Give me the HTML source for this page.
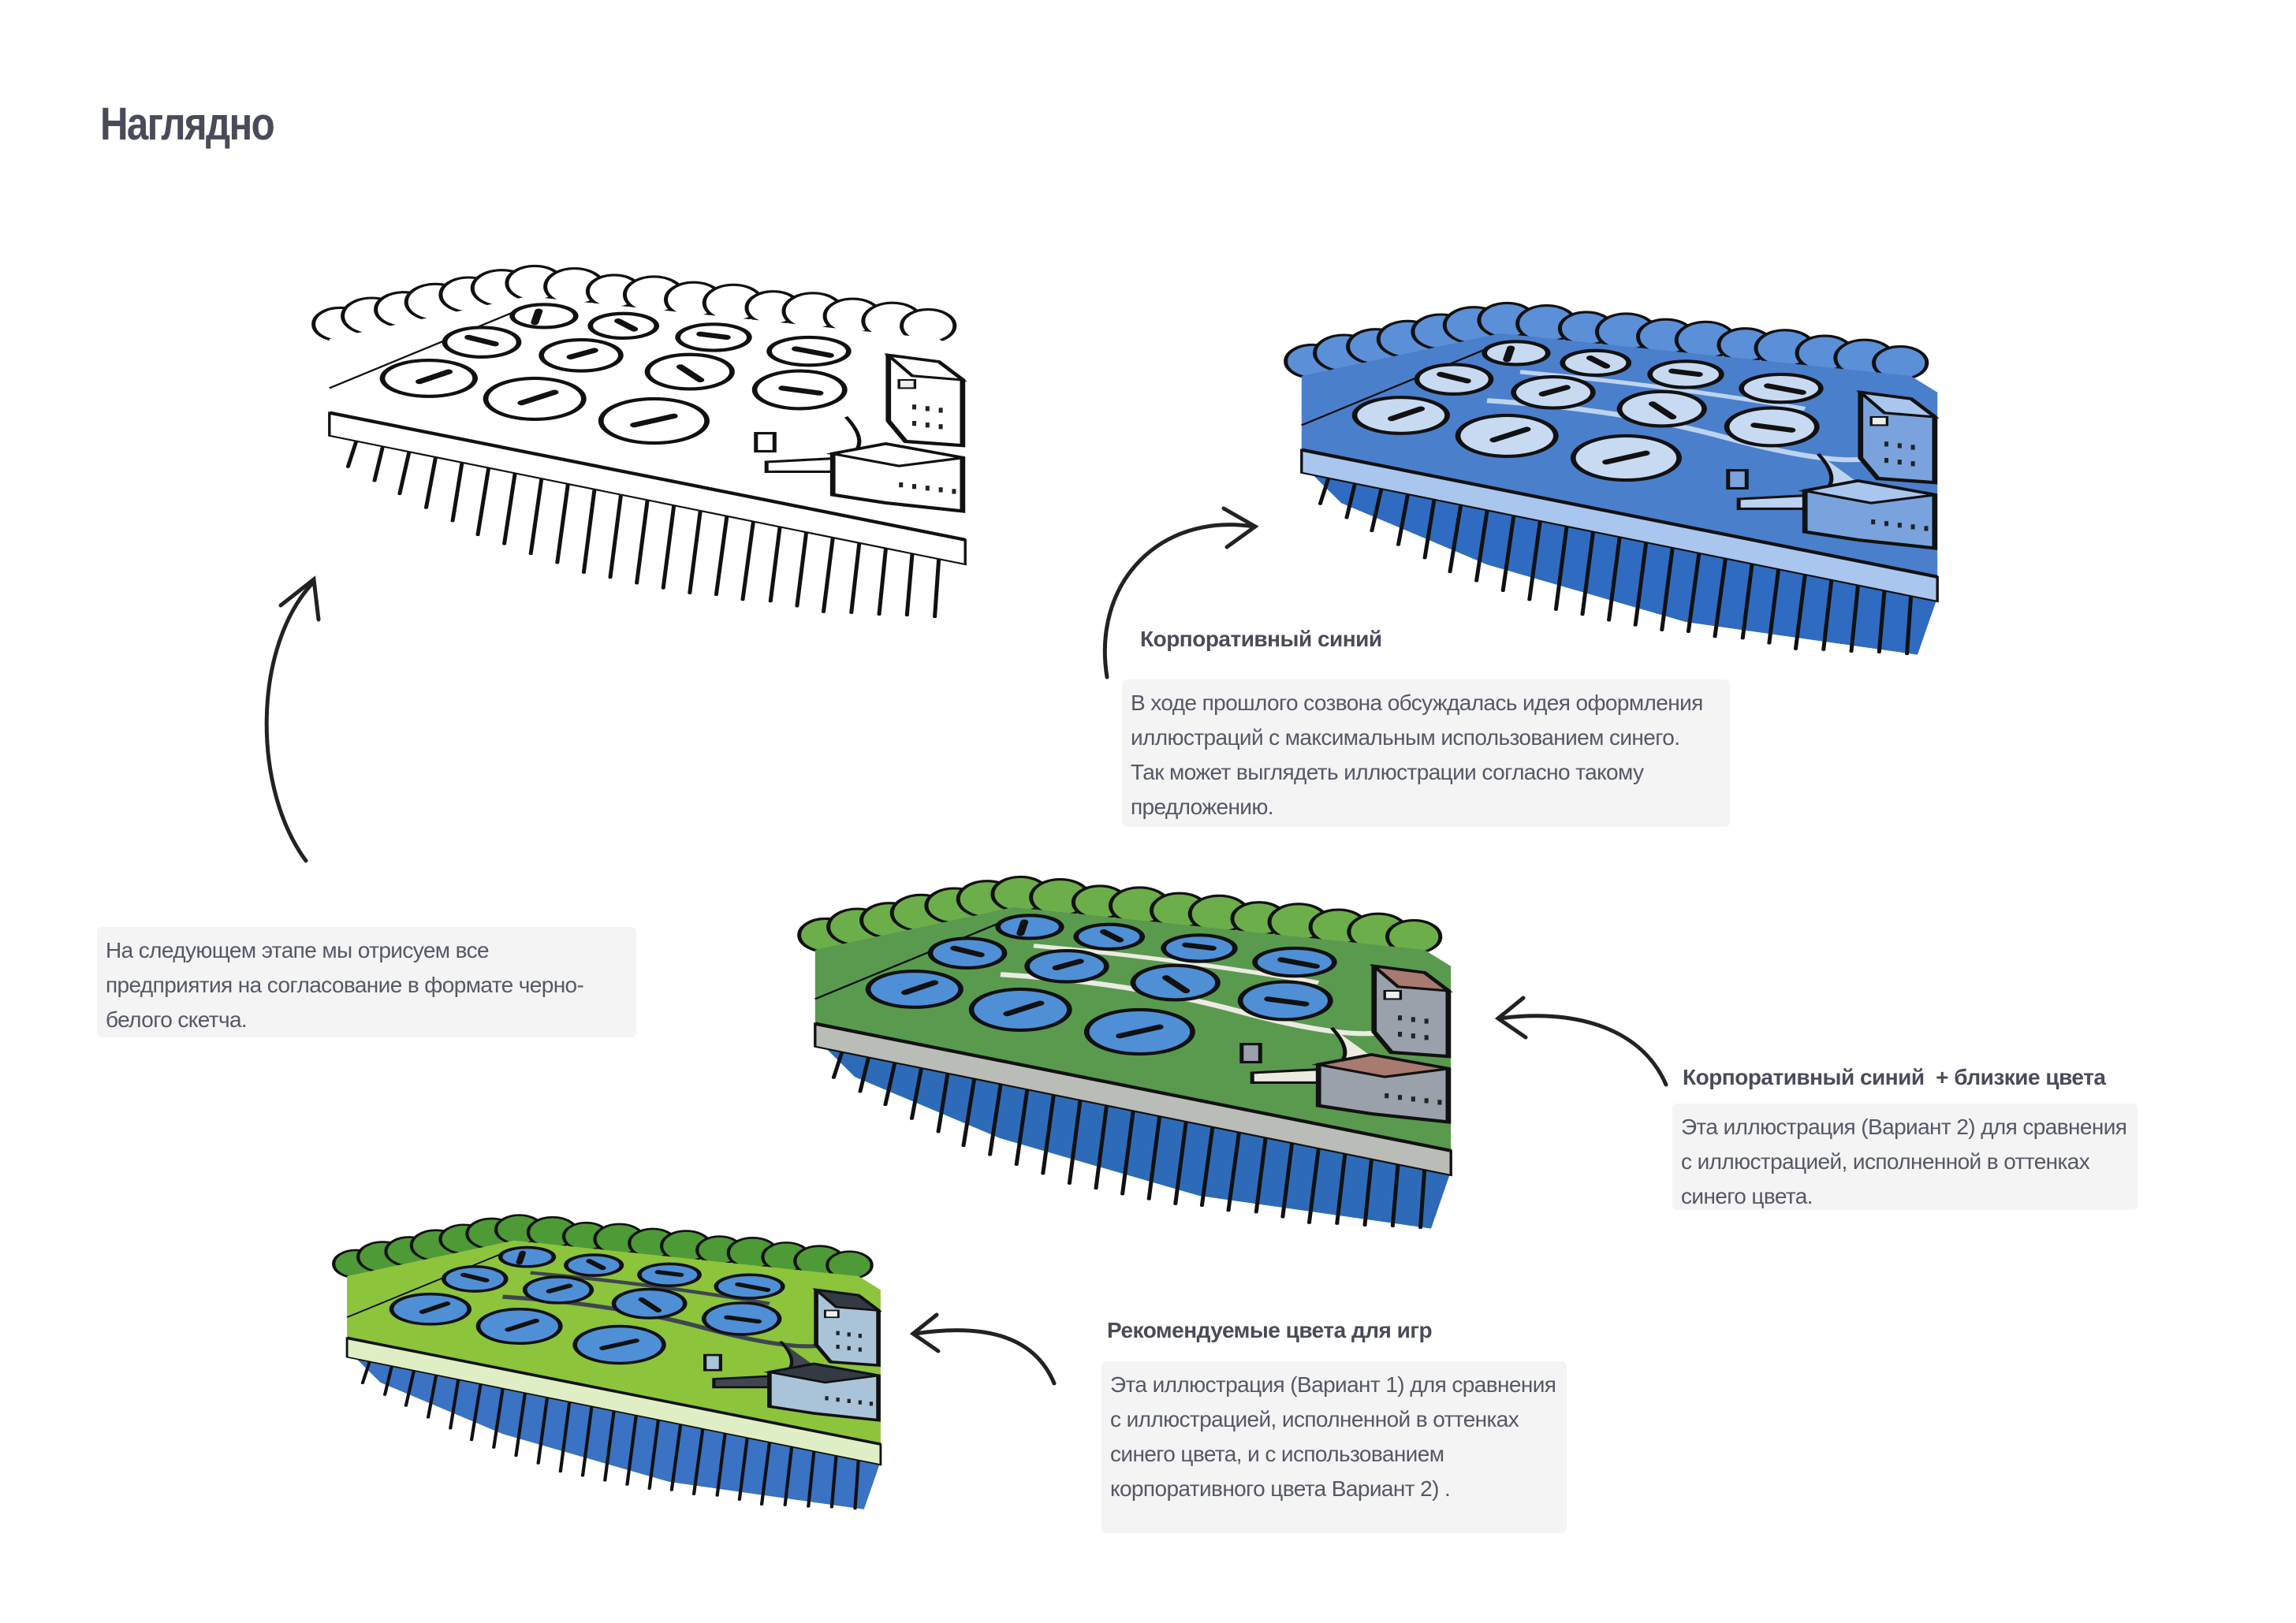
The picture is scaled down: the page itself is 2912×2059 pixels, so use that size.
<!DOCTYPE html>
<html><head><meta charset="utf-8"><style>
html,body{margin:0;padding:0;background:#fff;}
body{width:2912px;height:2059px;position:relative;overflow:hidden;font-family:"Liberation Sans",sans-serif;}
.t{position:absolute;font-weight:bold;color:#4a4b5a;font-family:"Liberation Sans",sans-serif;}
.box{position:absolute;background:#f4f4f4;border-radius:6px;color:#555866;font-size:28px;line-height:44px;padding:8px 11px;box-sizing:border-box;white-space:nowrap;letter-spacing:-0.6px;}
.h{position:absolute;font-weight:bold;color:#4a4b5a;font-size:28px;font-family:"Liberation Sans",sans-serif;letter-spacing:-0.5px;white-space:nowrap;}
svg{position:absolute;left:0;top:0;}
</style></head><body>
<svg width="2912" height="2059" viewBox="0 0 2912 2059">
<defs>
<g id="ill">
  <polygon points="15,215 490,370 475,440 300,400 150,330 40,255" fill="var(--w)"/>
  <g stroke="#111" stroke-width="3" stroke-linecap="round">
    <line x1="30" y1="226" x2="24" y2="256"/><line x1="50" y1="233" x2="44" y2="273"/><line x1="70" y1="239" x2="63" y2="289"/>
    <line x1="90" y1="246" x2="83" y2="306"/><line x1="110" y1="252" x2="103" y2="322"/><line x1="130" y1="259" x2="122" y2="339"/>
    <line x1="150" y1="265" x2="142" y2="350"/><line x1="170" y1="272" x2="162" y2="362"/><line x1="190" y1="278" x2="182" y2="373"/>
    <line x1="210" y1="285" x2="202" y2="385"/><line x1="230" y1="291" x2="222" y2="391"/><line x1="250" y1="298" x2="242" y2="398"/>
    <line x1="270" y1="304" x2="262" y2="404"/><line x1="290" y1="310" x2="282" y2="410"/><line x1="310" y1="317" x2="302" y2="412"/>
    <line x1="330" y1="323" x2="322" y2="418"/><line x1="350" y1="330" x2="343" y2="420"/><line x1="370" y1="336" x2="363" y2="426"/>
    <line x1="390" y1="343" x2="383" y2="433"/><line x1="410" y1="349" x2="404" y2="434"/><line x1="430" y1="356" x2="425" y2="436"/>
    <line x1="450" y1="362" x2="446" y2="437"/><line x1="470" y1="369" x2="467" y2="439"/>
  </g>
  <polygon points="10,190 490,345 490,375 10,218" fill="var(--s)" stroke="#111" stroke-width="2"/>
  <g fill="var(--t)" stroke="#111" stroke-width="3">
    <circle cx="18" cy="82" r="20"/><circle cx="42" cy="72" r="22"/><circle cx="66" cy="64" r="21"/><circle cx="90" cy="55" r="22"/>
    <circle cx="115" cy="46" r="21"/><circle cx="140" cy="38" r="22"/><circle cx="165" cy="32" r="21"/><circle cx="195" cy="36" r="22"/>
    <circle cx="225" cy="42" r="20"/><circle cx="255" cy="46" r="22"/><circle cx="285" cy="52" r="21"/><circle cx="315" cy="56" r="22"/>
    <circle cx="345" cy="62" r="20"/><circle cx="375" cy="66" r="22"/><circle cx="405" cy="72" r="21"/><circle cx="435" cy="78" r="22"/><circle cx="462" cy="84" r="20"/>
  </g>
  <polygon points="10,100 160,48 470,100 490,120 490,345 10,190" fill="var(--p)"/>
  <line x1="10" y1="190" x2="490" y2="345" stroke="#111" stroke-width="4"/>
  <line x1="10" y1="160" x2="160" y2="60" stroke="#111" stroke-width="2"/>
  <path d="M150,130 Q250,140 330,175 T440,200" fill="none" stroke="var(--r)" stroke-width="6"/>
  <path d="M175,95 Q280,110 390,140" fill="none" stroke="var(--r)" stroke-width="5"/>
  <g fill="var(--o)" stroke="#111" stroke-width="4">
    <ellipse cx="172" cy="72" rx="24" ry="14"/><ellipse cx="232" cy="84" rx="25" ry="15"/><ellipse cx="300" cy="98" rx="27" ry="16"/><ellipse cx="372" cy="115" rx="30" ry="17"/>
    <ellipse cx="125" cy="104" rx="28" ry="18"/><ellipse cx="200" cy="120" rx="30" ry="19"/><ellipse cx="282" cy="140" rx="32" ry="21"/><ellipse cx="365" cy="162" rx="34" ry="23"/>
    <ellipse cx="85" cy="148" rx="35" ry="22"/><ellipse cx="165" cy="173" rx="37" ry="25"/><ellipse cx="255" cy="200" rx="40" ry="27"/>
  </g>
  <g stroke="#111" stroke-width="6" stroke-linecap="round">
    <line x1="168" y1="66" x2="165" y2="80"/><line x1="228" y1="78" x2="240" y2="88"/><line x1="290" y1="94" x2="310" y2="98"/><line x1="362" y1="112" x2="388" y2="120"/>
    <line x1="115" y1="98" x2="135" y2="106"/><line x1="192" y1="122" x2="210" y2="114"/><line x1="275" y1="134" x2="290" y2="150"/><line x1="352" y1="160" x2="380" y2="166"/>
    <line x1="78" y1="152" x2="100" y2="140"/><line x1="155" y1="178" x2="180" y2="165"/><line x1="240" y1="205" x2="270" y2="194"/>
  </g>
  <path d="M400,195 Q420,230 400,245 L340,250 L340,262 L410,262 L430,230" fill="var(--r)" stroke="#111" stroke-width="3"/>
  <rect x="332" y="215" width="14" height="22" fill="var(--b)" stroke="#111" stroke-width="3"/>
  <polygon points="432,120 470,128 488,150 488,230 445,225 432,200" fill="var(--b)" stroke="#111" stroke-width="4"/>
  <polygon points="432,120 470,128 488,150 450,145" fill="var(--bt)" stroke="#111" stroke-width="3"/>
  <rect x="440" y="150" width="12" height="10" fill="#eee" stroke="#111" stroke-width="2"/>
  <polygon points="390,240 430,228 488,245 488,310 430,300 390,290" fill="var(--b)" stroke="#111" stroke-width="4"/>
  <polygon points="390,240 430,228 488,245 440,255" fill="var(--bt)" stroke="#111" stroke-width="3"/>
  <g fill="#222"><rect x="450" y="180" width="3" height="6"/><rect x="460" y="182" width="3" height="6"/><rect x="470" y="184" width="3" height="6"/><rect x="450" y="200" width="3" height="6"/><rect x="460" y="202" width="3" height="6"/><rect x="470" y="204" width="3" height="6"/>
  <rect x="440" y="275" width="3" height="6"/><rect x="450" y="277" width="3" height="6"/><rect x="460" y="279" width="3" height="6"/><rect x="470" y="281" width="3" height="6"/><rect x="480" y="283" width="3" height="6"/></g>
</g>
</defs>

<g transform="translate(401,326) scale(1.68,1.04)" style="--w:#fff;--s:#fff;--t:#fff;--p:#fff;--r:#fff;--o:#fff;--b:#fff;--bt:#fff"><use href="#ill"/></g>
<g transform="translate(1634,373) scale(1.68,1.04)" style="--w:#2f6bc0;--s:#a9c6ee;--t:#5b8fd8;--p:#4a7fcc;--r:#bcd3f2;--o:#c8daf2;--b:#7aa3de;--bt:#a9c6ee"><use href="#ill"/></g>
<g transform="translate(1017,1101) scale(1.68,1.04)" style="--w:#2d6bb8;--s:#b9bcb7;--t:#6cae4a;--p:#5a9a4f;--r:#ecebe2;--o:#4f8fd6;--b:#9aa1aa;--bt:#a87a70"><use href="#ill"/></g>
<g transform="translate(426,1532) scale(1.41,0.87)" style="--w:#3a72c4;--s:#dfeec4;--t:#4e9a36;--p:#8cc43c;--r:#3f4650;--o:#4f8fd6;--b:#a9c4d8;--bt:#333a44"><use href="#ill"/></g>

<g fill="none" stroke="#222" stroke-width="5" stroke-linecap="round">
  <path d="M388,1092 C320,1000 320,820 398,738"/>
  <path d="M356,768 L398,735 L404,786"/>
  <path d="M1404,859 C1385,740 1470,650 1590,668"/>
  <path d="M1552,645 L1592,668 L1556,694"/>
  <path d="M2113,1376 C2080,1300 1990,1280 1902,1292"/>
  <path d="M1932,1266 L1900,1292 L1935,1316"/>
  <path d="M1337,1755 C1310,1690 1240,1680 1160,1692"/>
  <path d="M1188,1668 L1158,1692 L1190,1714"/>
</g>
</svg>

<div class="t" style="left:127px;top:124px;font-size:58px;letter-spacing:-2px;transform:scaleX(0.85);transform-origin:left;">Наглядно</div>

<div class="box" style="left:123px;top:1176px;width:684px;height:140px;">На следующем этапе мы отрисуем все<br>предприятия на согласование в формате черно-<br>белого скетча.</div>

<div class="h" style="left:1446px;top:795px;">Корпоративный синий</div>
<div class="box" style="left:1423px;top:862px;width:771px;height:187px;">В ходе прошлого созвона обсуждалась идея оформления<br>иллюстраций с максимальным использованием синего.<br>Так может выглядеть иллюстрации согласно такому<br>предложению.</div>

<div class="h" style="left:2134px;top:1351px;">Корпоративный синий&nbsp; + близкие цвета</div>
<div class="box" style="left:2121px;top:1400px;width:590px;height:135px;">Эта иллюстрация (Вариант 2) для сравнения<br>с иллюстрацией, исполненной в оттенках<br>синего цвета.</div>

<div class="h" style="left:1404px;top:1672px;">Рекомендуемые цвета для игр</div>
<div class="box" style="left:1397px;top:1727px;width:590px;height:218px;">Эта иллюстрация (Вариант 1) для сравнения<br>с иллюстрацией, исполненной в оттенках<br>синего цвета, и с использованием<br>корпоративного цвета Вариант 2) .</div>
</body></html>
